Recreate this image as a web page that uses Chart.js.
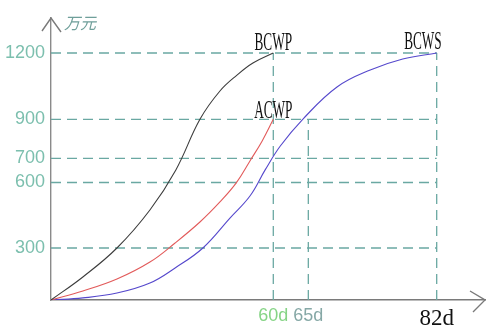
<!DOCTYPE html>
<html>
<head>
<meta charset="utf-8">
<script src="https://cdn.jsdelivr.net/npm/chart.js@4/dist/chart.umd.min.js"></script>
<style>
  html, body { margin: 0; padding: 0; background: #fff; }
</style>
</head>
<body>
<canvas id="evChart" width="489" height="329"></canvas>
<script>
// S-curves, x in days, y in 万元
const bcwpDays   = [0, 8.6, 17.8, 26.7, 33.7, 40.2, 45.6, 50.2, 54.5, 60];
const bcwpValues = [0, 133, 300, 474, 652, 900, 1028, 1100, 1155, 1200];

const acwpDays   = [0, 8.6, 17.8, 26.7, 33.5, 40.2, 45.6, 50.0, 53.7, 57.0, 60];
const acwpValues = [0, 52, 121, 219, 323, 419, 511, 598, 689, 789, 900];

const bcwsDays   = [0, 8.6, 17.8, 26.7, 33.5, 41.0, 48.3, 53.7, 57.8, 61.0, 64.2, 68.8, 73.2, 77.5, 82];
const bcwsValues = [0, 12, 40, 98, 185, 300, 437, 538, 652, 763, 900, 1046, 1123, 1173, 1200];

const seriesNames = ["BCWP", "ACWP", "BCWS"];

// reference levels and marked days
const yTicks = [300, 600, 700, 900, 1200];
const xTicks = [60, 65, 82];
const xTickTops = [1200, 900, 1200];
const xTickLabels = ["60d", "65d", "82d"];
const guideEnd = 82;

// the drawing is not to scale: each axis is stretched piecewise
const knots = {
  x: [[0, 0], [60, 0.5122], [65, 0.5929], [82, 0.8887], [88, 1]],
  y: [[0, 0], [300, 0.1844], [600, 0.4167], [700, 0.5025], [900, 0.6408], [1200, 0.8759], [1350, 1]]
};

class PiecewiseScale extends Chart.LinearScale {
  static id = "piecewise";
  static defaults = Chart.LinearScale.defaults;
  toDecimal(v) {
    const k = knots[this.id];
    for (let i = 1; i < k.length; i++) {
      if (v <= k[i][0] || i === k.length - 1) {
        const t = (v - k[i - 1][0]) / (k[i][0] - k[i - 1][0]);
        return k[i - 1][1] + t * (k[i][1] - k[i - 1][1]);
      }
    }
    return 0;
  }
  getPixelForValue(value) {
    if (value === null || isNaN(value)) return NaN;
    return this.getPixelForDecimal(this.toDecimal(value));
  }
  getValueForPixel(pixel) {
    const d = this.getDecimalForPixel(pixel);
    const k = knots[this.id];
    for (let i = 1; i < k.length; i++) {
      if (d <= k[i][1] || i === k.length - 1) {
        const t = (d - k[i - 1][1]) / (k[i][1] - k[i - 1][1]);
        return k[i - 1][0] + t * (k[i][0] - k[i - 1][0]);
      }
    }
    return 0;
  }
}
Chart.register(PiecewiseScale);

const toPoints = (xs, ys) => xs.map((x, i) => ({ x: x, y: ys[i] }));

const guideColor = "#6aa8a2";
const guideStyle = {
  borderColor: guideColor, borderWidth: 1.3, borderDash: [10, 6],
  pointRadius: 0, fill: false, tension: 0, order: 5
};
const guides = [];
yTicks.forEach(v => guides.push({ ...guideStyle, data: [{ x: 0, y: v }, { x: guideEnd, y: v }] }));
xTicks.forEach((d, i) => guides.push({ ...guideStyle, data: [{ x: d, y: 0 }, { x: d, y: xTickTops[i] }] }));

const curve = (name, xs, ys, color) => ({
  label: name, data: toPoints(xs, ys), borderColor: color, borderWidth: 1.1,
  pointRadius: 0, fill: false, tension: 0.4, order: 1
});

const labelPlugin = {
  id: "decor",
  afterDatasetsDraw(chart) {
    const ctx = chart.ctx;
    const a = chart.chartArea;
    ctx.save();
    // arrows on the axes
    ctx.strokeStyle = "#7a7a7a";
    ctx.lineWidth = 1.4;
    ctx.beginPath();
    ctx.moveTo(a.left - 9, a.top + 13); ctx.lineTo(a.left, a.top); ctx.lineTo(a.left + 10, a.top + 14);
    ctx.moveTo(a.right - 15, a.bottom - 9); ctx.lineTo(a.right, a.bottom); ctx.lineTo(a.right - 12, a.bottom + 12);
    ctx.stroke();
    // unit
    ctx.fillStyle = "#6f9f9a";
    ctx.font = 'italic 16px "Noto Sans CJK SC"';
    ctx.textBaseline = "middle";
    ctx.textAlign = "left";
    ctx.fillText("万元", a.left + 13, a.top + 5);
    // series names at the end of each curve
    const offs = [[0, -3, "center"], [0, -1, "center"], [5, -4, "right"]];
    ctx.fillStyle = "#111";
    ctx.textBaseline = "alphabetic";
    seriesNames.forEach((name, i) => {
      const pts = chart.getDatasetMeta(i).data;
      const p = pts[pts.length - 1];
      ctx.save();
      ctx.translate(p.x + offs[i][0], p.y + offs[i][1]);
      ctx.scale(0.53, 1);
      ctx.font = '25px "Liberation Serif"';
      ctx.textAlign = offs[i][2];
      ctx.fillText(name, 0, 0);
      ctx.restore();
    });
    ctx.restore();
  }
};

new Chart(document.getElementById("evChart"), {
  type: "line",
  data: {
    datasets: [
      curve("BCWP", bcwpDays, bcwpValues, "#3c3c3c"),
      curve("ACWP", acwpDays, acwpValues, "#e25a5a"),
      curve("BCWS", bcwsDays, bcwsValues, "#5548cc"),
      ...guides
    ]
  },
  options: {
    responsive: false,
    devicePixelRatio: 1,
    animation: false,
    layout: { padding: { top: 18, right: 4, left: 0, bottom: 0 } },
    plugins: { legend: { display: false }, tooltip: { enabled: false } },
    scales: {
      x: {
        type: "piecewise", min: 0, max: 88,
        grid: { display: false, drawTicks: false },
        border: { color: "#7a7a7a", width: 1.4 },
        afterBuildTicks: s => { s.ticks = xTicks.map(v => ({ value: v })); },
        afterFit: s => { s.height = 29; },
        ticks: {
          autoSkip: false, maxRotation: 0, padding: 5,
          callback: (v, i) => xTickLabels[i],
          color: c => ["#86d486", "#86a8a6", "#111"][c.index],
          font: c => c.index === 2
            ? { family: "Liberation Serif", size: 23 }
            : { family: "Liberation Sans", size: 18 }
        }
      },
      y: {
        type: "piecewise", min: 0, max: 1350,
        grid: { display: false, drawTicks: false },
        border: { color: "#8a8a8a", width: 1.4 },
        afterBuildTicks: s => { s.ticks = yTicks.map(v => ({ value: v })); },
        afterFit: s => { s.width = 51; },
        ticks: {
          padding: 6,
          color: "#7cbfae",
          callback: v => String(v),
          font: { family: "Liberation Sans", size: 18 }
        }
      }
    }
  },
  plugins: [labelPlugin]
});
</script>
</body>
</html>
